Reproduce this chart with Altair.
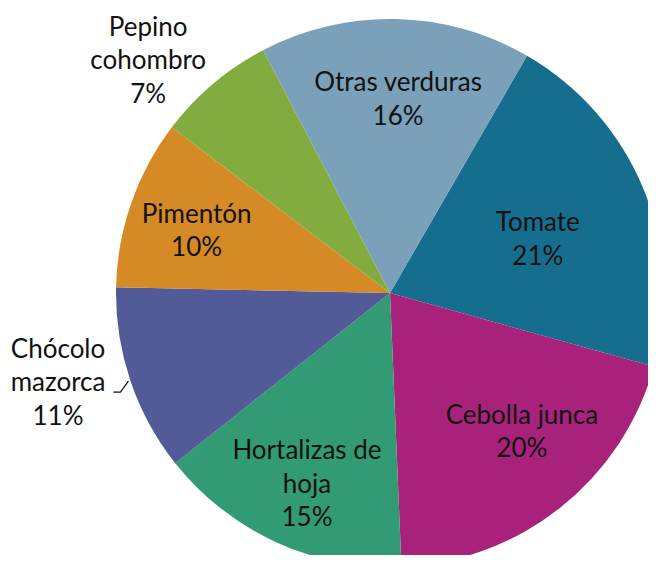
import math
import altair as alt
import pandas as pd

# ---- data ----
categories = ["Tomate", "Cebolla junca", "Hortalizas de hoja", "Chócolo mazorca",
              "Pimentón", "Pepino cohombro", "Otras verduras"]
label_lines = ["Tomate", "Cebolla junca", "Hortalizas de\nhoja", "Chócolo\nmazorca",
               "Pimentón", "Pepino\ncohombro", "Otras verduras"]
shares = [21, 20, 15, 11, 10, 7, 16]
colors = ["#166E8F", "#A8227B", "#339B73", "#525A98", "#D68A26", "#82AC40", "#7AA1B9"]

# ---- layout ----
W, H = 640, 547
CX, CY = 382, 285
R = 274
START_DEG = 30
START = math.radians(START_DEG)
LINE_H = 33.5
# label placement: radius from centre and angular nudge (degrees) from slice mid-angle
label_radius = {"Tomate": 157, "Cebolla junca": 192, "Hortalizas de hoja": 209,
                "Chócolo mazorca": 344, "Pimentón": 203, "Pepino cohombro": 335,
                "Otras verduras": 193}
label_nudge = {"Tomate": 2.5, "Cebolla junca": -5, "Hortalizas de hoja": -1.2,
               "Chócolo mazorca": 3.4, "Pimentón": -1.5, "Pepino cohombro": -6,
               "Otras verduras": 1.2}

total = sum(shares)
df = pd.DataFrame({
    "cat": categories,
    "val": shares,
    "order": list(range(len(categories))),
    "label": [f"{l}\n{v}%" for l, v in zip(label_lines, shares)],
})
df["nlines"] = df["label"].str.count("\n") + 1
df["lr"] = df["cat"].map(label_radius)
df["nudge"] = df["cat"].map(label_nudge)

theta_scale = alt.Scale(domain=[0, total], range=[START, START + 2 * math.pi])

pie = alt.Chart(df).mark_arc(radius=R, stroke=None).encode(
    theta=alt.Theta("val:Q", stack=True, scale=theta_scale),
    order=alt.Order("order:Q"),
    x=alt.value(CX), y=alt.value(CY),
    color=alt.Color("cat:N", scale=alt.Scale(domain=categories, range=colors), legend=None),
)

labels = alt.Chart(df).transform_window(
    cum="sum(val)", sort=[alt.SortField("order")]
).transform_calculate(
    ang=f"{START} + 2 * PI * (datum.cum - datum.val / 2) / {total} + datum.nudge * PI / 180"
).transform_calculate(
    px=f"{CX} + datum.lr * sin(datum.ang)",
    py=f"{CY} - datum.lr * cos(datum.ang) - (datum.nlines - 1) * {LINE_H} / 2",
).mark_text(
    font="Lato", fontSize=26, lineBreak="\n", lineHeight=LINE_H,
    align="center", baseline="middle", color="#111111",
).encode(
    x=alt.X("px:Q", scale=None, axis=None),
    y=alt.Y("py:Q", scale=None, axis=None),
    text="label:N",
)

# leader line for the Chócolo label, derived from its slice mid-angle
i = categories.index("Chócolo mazorca")
mid = START + 2 * math.pi * (sum(shares[:i]) + shares[i] / 2) / total
ex, ey = CX + (R + 2) * math.sin(mid), CY - (R + 2) * math.cos(mid)
leader = pd.DataFrame({
    "px": [ex, ex - 8, ex - 15],
    "py": [ey, ey + 11, ey + 11],
    "k": [0, 1, 2],
})
lead = alt.Chart(leader).mark_line(color="#111111", strokeWidth=1.3).encode(
    x=alt.X("px:Q", scale=None, axis=None),
    y=alt.Y("py:Q", scale=None, axis=None),
    order="k:Q",
)

chart = alt.layer(pie, labels, lead).properties(
    width=W, height=H, autosize=alt.AutoSizeParams(type="none"), padding=0,
).configure_view(stroke=None)

chart.save("out.html", embed_options={"renderer": "svg", "actions": False})
